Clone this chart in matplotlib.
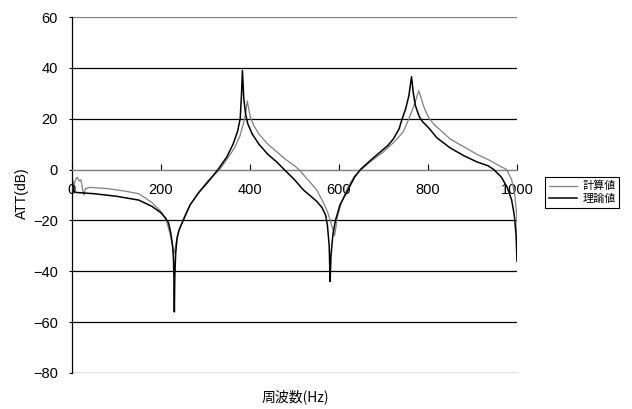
import matplotlib
matplotlib.use("Agg")
import matplotlib.pyplot as plt

plt.rcParams['font.family'] = ['Liberation Sans', 'Noto Sans CJK JP', 'DejaVu Sans']

# 理論値 (theory)
freq_theory = [0, 3, 10, 50, 100, 150, 180, 200, 210, 217, 222, 226, 228, 229, 230, 231, 233,
               236, 240, 250, 265, 285, 305, 328, 348, 362, 372, 378, 381, 383, 386, 390, 395,
               405, 420, 440, 460, 477, 500, 520, 540, 550, 562, 570, 574, 578, 580, 582, 586,
               592, 602, 620, 635, 648, 670, 690, 710, 722, 735, 742, 750, 757, 763, 767, 772,
               780, 787, 801, 820, 850, 880, 910, 935, 948, 965, 978, 988, 994, 998, 1000]
att_theory = [-2, -8.5, -9, -9.5, -10.5, -12, -14.5, -17, -19, -21, -25, -30, -35, -42, -56, -42, -33,
              -27, -24, -20, -14, -9, -5, 0, 5, 10, 15, 20, 30, 39, 28, 22, 18,
              14, 10, 6, 3, 0, -4, -8, -11, -12.5, -15, -18, -22, -30, -44, -34, -26,
              -20, -14, -8, -3, 0, 3.5, 6.5, 9.5, 12, 16, 20, 24, 29, 36.5, 30, 25,
              21, 19, 16.5, 12.5, 8.5, 5.5, 3, 1.5, 0, -3, -7, -12, -18, -26, -36]

# 計算値 (calculated)
freq_calc = [0, 4, 8, 12, 16, 20, 24, 27, 30, 40, 80, 120, 150, 180, 200, 212, 220, 226, 229,
             232, 236, 242, 250, 265, 285, 305, 332, 350, 365, 377, 385, 390, 394, 397, 401,
             408, 420, 440, 460, 480, 500, 510, 530, 550, 565, 575, 582, 587, 590, 592, 596,
             605, 620, 635, 650, 670, 700, 725, 745, 757, 765, 772, 779, 783, 790, 797, 803,
             815, 850, 880, 910, 940, 960, 977, 988, 995, 999, 1000, 1000]
att_calc = [-8, -6, -4, -3, -4.5, -4, -8, -10, -7.5, -7, -7.5, -8.5, -9.5, -13, -16.5, -20, -25, -30, -33,
            -31, -27, -23, -19.5, -14, -9, -4.5, 0, 4.5, 8.5, 13, 18, 22, 27, 24, 20.5,
            17.5, 14, 10, 7, 4, 1.5, 0, -4, -8, -13, -17, -21, -24, -26, -24, -19,
            -13, -7, -2.5, 0, 3, 7, 11, 15, 20, 23.5, 27, 31, 29, 25, 22, 20,
            17.5, 12, 9, 6, 3.5, 1.5, 0, -4, -10, -17, -20, -33]

y_ticks = [-80, -60, -40, -20, 0, 20, 40, 60]
x_ticks = [0, 200, 400, 600, 800, 1000]

fig = plt.figure(figsize=(6.32, 4.09), dpi=100)
ax = fig.add_axes([72 / 632, 1 - 373 / 409, (517 - 72) / 632, (373 - 17) / 409])

for y in y_ticks:
    c = '#808080' if y in (0, 60) else 'black'
    ax.axhline(y, color=c, lw=0.9, zorder=1)

ax.plot(freq_calc, att_calc, color='#808080', lw=0.9, label='計算値', zorder=3)
ax.plot(freq_theory, att_theory, color='black', lw=1.1, label='理論値', zorder=4)

ax.set_xlim(0, 1000)
ax.set_ylim(-80, 60)
ax.set_yticks(y_ticks)
ax.set_xticks(x_ticks)

ax.spines['top'].set_visible(False)
ax.spines['right'].set_visible(False)
ax.spines['left'].set_color('black')
ax.spines['left'].set_linewidth(0.9)
ax.spines['bottom'].set_position(('data', 0))
ax.spines['bottom'].set_color('#808080')
ax.spines['bottom'].set_linewidth(0.9)

ax.tick_params(axis='y', length=2, width=0.8, pad=8, labelsize=10.5)
ax.tick_params(axis='x', direction='in', length=4, width=0.8, color='black',
               pad=10, labelsize=10.5)

fig.text(22 / 632, 1 - 193 / 409, 'ATT(dB)', rotation=90, ha='center', va='center',
         fontsize=10, family=['Liberation Sans', 'Noto Sans CJK JP'])
fig.text(295 / 632, 1 - 397 / 409, '周波数(Hz)', ha='center', va='center',
         fontsize=10, family=['Noto Sans CJK JP'])

leg = fig.legend(loc='upper left', bbox_to_anchor=(545 / 632, 1 - 177 / 409),
                 frameon=True, fancybox=False, edgecolor='black', framealpha=1,
                 prop={'family': 'Noto Sans CJK JP', 'size': 8}, handlelength=2.5,
                 handletextpad=0.5, borderpad=0.35, labelspacing=0.2, borderaxespad=0)
leg.get_frame().set_linewidth(0.8)

fig.savefig('out.png', dpi=100)
